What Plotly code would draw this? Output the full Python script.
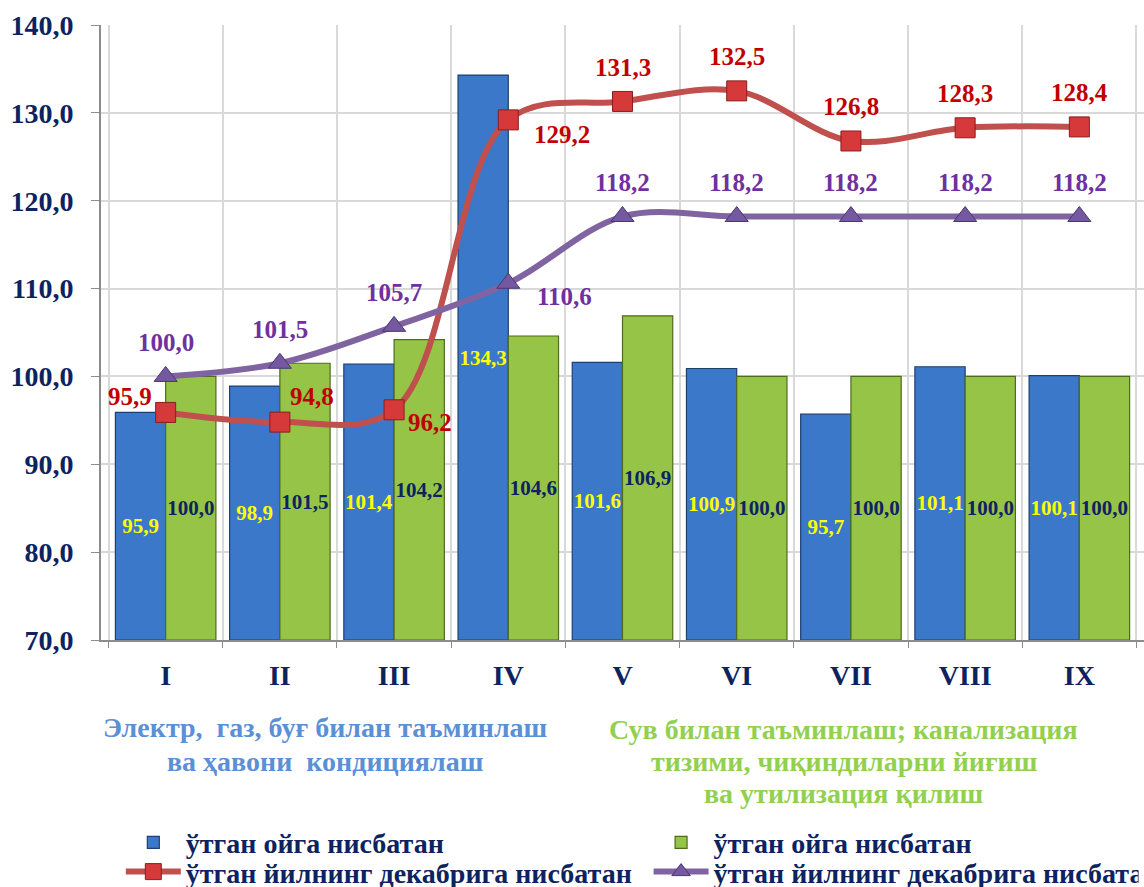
import plotly.graph_objects as go

# ---- data ----
categories = ["I", "II", "III", "IV", "V", "VI", "VII", "VIII", "IX"]
elec_month = [95.9, 98.9, 101.4, 134.3, 101.6, 100.9, 95.7, 101.1, 100.1]
water_month = [100.0, 101.5, 104.2, 104.6, 106.9, 100.0, 100.0, 100.0, 100.0]
elec_dec = [95.9, 94.8, 96.2, 129.2, 131.3, 132.5, 126.8, 128.3, 128.4]
water_dec = [100.0, 101.5, 105.7, 110.6, 118.2, 118.2, 118.2, 118.2, 118.2]

name_month = "ўтган ойга нисбатан"
name_dec = "ўтган йилнинг декабрига нисбатан"
title_elec = ["Электр,  газ, буғ билан таъминлаш", "ва ҳавони  кондициялаш"]
title_water = ["Сув билан таъминлаш; канализация", "тизими, чиқиндиларни йиғиш", "ва утилизация қилиш"]

Y_MIN, Y_MAX = 70, 140

# ---- styles ----
FONT = "Liberation Serif, Times New Roman, serif"
NAVY = "#0C2360"
RED_TXT = "#C00000"
PUR_TXT = "#7030A0"
# label pixel offsets (style only)
red_dx = [-36, 32, 36, 54, 0, 0, 0, 0, 0]
red_dy = [16, 26, -13, -15, 34, 34, 34, 34, 34]
pur_dx = [0, 0, 0, 56, 0, 0, 0, 0, 0]
pur_dy = [34, 34, 34, -13, 34, 34, 34, 34, 34]
# title line positions (paper coords)
elec_title_y = [-0.143, -0.197]
water_title_y = [-0.146, -0.198, -0.249]


def fmt(v):
    return f"{v:.1f}".replace(".", ",")


fig = go.Figure()
# bars start at the axis minimum so the inside labels sit in the visible part
fig.add_trace(go.Bar(
    x=categories, y=[v - Y_MIN for v in elec_month], base=Y_MIN, name=name_month,
    legend="legend",
    marker=dict(color="#3B78C9", line=dict(color="#1E3F70", width=1.2)),
    text=[fmt(v) for v in elec_month], textposition="inside",
    insidetextanchor="middle", textangle=0, constraintext="none",
    textfont=dict(size=21, color="#FFFF00", family=FONT, weight="bold"),
    hovertext=[fmt(v) for v in elec_month], hoverinfo="x+text",
))
fig.add_trace(go.Bar(
    x=categories, y=[v - Y_MIN for v in water_month], base=Y_MIN, name=name_month,
    legend="legend2",
    marker=dict(color="#96C447", line=dict(color="#4E6B1E", width=1.2)),
    text=[fmt(v) for v in water_month], textposition="inside",
    insidetextanchor="middle", textangle=0, constraintext="none",
    textfont=dict(size=21, color=NAVY, family=FONT, weight="bold"),
    hovertext=[fmt(v) for v in water_month], hoverinfo="x+text",
))
fig.add_trace(go.Scatter(
    x=categories, y=elec_dec, name=name_dec, mode="lines+markers", legend="legend3",
    line=dict(color="#C0504D", width=6, shape="spline", smoothing=1.0),
    marker=dict(symbol="square", size=20, color="#D5393A",
                line=dict(color="#8A1E1E", width=1)),
))
fig.add_trace(go.Scatter(
    x=categories, y=water_dec, name=name_dec, mode="lines+markers", legend="legend4",
    line=dict(color="#8064A2", width=6, shape="spline", smoothing=1.0),
    marker=dict(symbol="triangle-up", size=20, color="#7458A0",
                line=dict(color="#4A3570", width=1)),
))

annotations = []
for i, c in enumerate(categories):
    annotations.append(dict(x=c, y=elec_dec[i], xref="x", yref="y", text=fmt(elec_dec[i]),
                            showarrow=False, xshift=red_dx[i], yshift=red_dy[i],
                            font=dict(size=25, color=RED_TXT, family=FONT, weight="bold")))
    annotations.append(dict(x=c, y=water_dec[i], xref="x", yref="y", text=fmt(water_dec[i]),
                            showarrow=False, xshift=pur_dx[i], yshift=pur_dy[i],
                            font=dict(size=25, color=PUR_TXT, family=FONT, weight="bold")))

for line, yy in zip(title_elec, elec_title_y):
    annotations.append(dict(x=0.215, y=yy, xref="paper", yref="paper", text=line,
                            showarrow=False, xanchor="center", yanchor="middle",
                            font=dict(size=28, color="#5B8FD6", family=FONT, weight="bold")))
for line, yy in zip(title_water, water_title_y):
    annotations.append(dict(x=0.712, y=yy, xref="paper", yref="paper", text=line,
                            showarrow=False, xanchor="center", yanchor="middle",
                            font=dict(size=28, color="#92D050", family=FONT, weight="bold")))


def legend_box(x, y, **extra):
    d = dict(orientation="v", xref="paper", x=x, xanchor="left",
             yref="container", y=y, yanchor="middle", itemwidth=55,
             font=dict(size=28, color=NAVY, family=FONT, weight="bold"),
             bgcolor="rgba(0,0,0,0)")
    d.update(extra)
    return d


fig.update_layout(
    width=1144, height=887,
    margin=dict(l=101, r=0, t=25, b=247),
    paper_bgcolor="white", plot_bgcolor="white",
    separators=", ",
    font=dict(family=FONT, color=NAVY, size=24, weight="bold"),
    barmode="group", bargap=0.12, bargroupgap=0,
    annotations=annotations,
    showlegend=True,
    legend=legend_box(0.019, 0.050),
    legend2=legend_box(0.525, 0.050),
    legend3=legend_box(0.019, 0.017),
    # last entry runs past the right edge, as in the original
    legend4=legend_box(0.525, 0.017, orientation="h", entrywidth=420,
                       entrywidthmode="pixels"),
)
fig.update_xaxes(
    type="category", tickson="boundaries", showgrid=True, gridcolor="#D9D9D9", gridwidth=1.5,
    showline=True, linecolor="#8C8C8C", linewidth=2, ticks="outside", ticklen=6,
    tickcolor="#8C8C8C", tickfont=dict(size=28, color=NAVY, family=FONT, weight="bold"),
    ticklabelstandoff=9,
)
fig.update_yaxes(
    range=[Y_MIN, Y_MAX], dtick=10, tickformat=".1f", showgrid=True, gridcolor="#D9D9D9",
    gridwidth=1.5, showline=True, linecolor="#8C8C8C", linewidth=2, ticks="outside",
    ticklen=8, tickcolor="#8C8C8C", zeroline=False,
    tickfont=dict(size=28, color=NAVY, family=FONT, weight="bold"),
    ticklabelstandoff=12,
)

fig.write_html("out.html", config={"displayModeBar": False},
               post_script="document.body.style.margin='0';")
